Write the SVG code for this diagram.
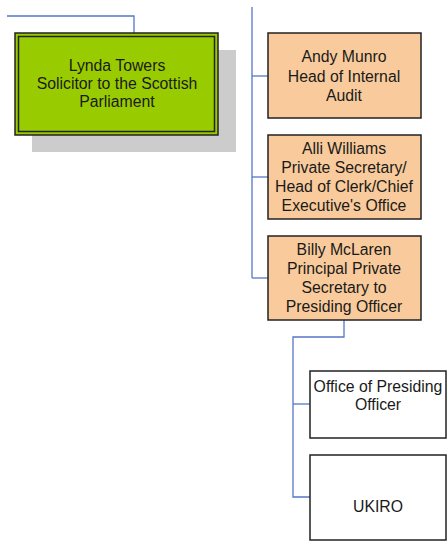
<svg xmlns="http://www.w3.org/2000/svg" width="447" height="547" viewBox="0 0 447 547">
<style>
text{font-family:"Liberation Sans",Arial,sans-serif;font-size:15.8px;fill:#1a1a1a;text-anchor:middle;dominant-baseline:central}
.conn{fill:none;stroke:#5577c8;stroke-width:1.3}
.orange{fill:#f9cb9c;stroke:#222;stroke-width:1.5}
.white{fill:#fff;stroke:#222;stroke-width:1.5}
</style>
<rect width="447" height="547" fill="#fff"/>
<g id="connectors">
<polyline class="conn" points="7,16 134,16 134,33"/>
<line class="conn" x1="252" y1="7" x2="252" y2="278"/>
<line class="conn" x1="252" y1="76" x2="268" y2="76"/>
<line class="conn" x1="252" y1="177" x2="268" y2="177"/>
<line class="conn" x1="252" y1="278" x2="268" y2="278"/>
<polyline class="conn" points="344,320 344,337 293,337 293,497 310,497"/>
<line class="conn" x1="293" y1="404" x2="310" y2="404"/>
</g>
<g id="lynda">
<rect x="32" y="50" width="204" height="102" fill="#cccccc"/>
<rect x="15" y="33" width="203" height="102" fill="#99cc00" stroke="#222" stroke-width="1.5"/>
<rect x="18.5" y="36.5" width="196" height="95" fill="none" stroke="#222" stroke-width="1.5"/>
<text x="117" y="65">Lynda Towers</text>
<text x="117" y="83">Solicitor to the Scottish</text>
<text x="117" y="101">Parliament</text>
</g>
<g id="andy">
<rect class="orange" x="268" y="33" width="153" height="85"/>
<text x="344" y="56">Andy Munro</text>
<text x="344" y="76">Head of Internal</text>
<text x="344" y="95">Audit</text>
</g>
<g id="alli">
<rect class="orange" x="268" y="135" width="153" height="84"/>
<text x="344" y="148">Alli Williams</text>
<text x="344" y="167">Private Secretary/</text>
<text x="344" y="186">Head of Clerk/Chief</text>
<text x="344" y="205">Executive's Office</text>
</g>
<g id="billy">
<rect class="orange" x="268" y="236" width="153" height="84"/>
<text x="344" y="249">Billy McLaren</text>
<text x="344" y="268">Principal Private</text>
<text x="344" y="287">Secretary to</text>
<text x="344" y="306">Presiding Officer</text>
</g>
<g id="office">
<rect class="white" x="310" y="371" width="136" height="67"/>
<text x="378" y="386">Office of Presiding</text>
<text x="378" y="404">Officer</text>
</g>
<g id="ukiro">
<rect class="white" x="310" y="455" width="136" height="85"/>
<text x="378" y="506">UKIRO</text>
</g>
</svg>
